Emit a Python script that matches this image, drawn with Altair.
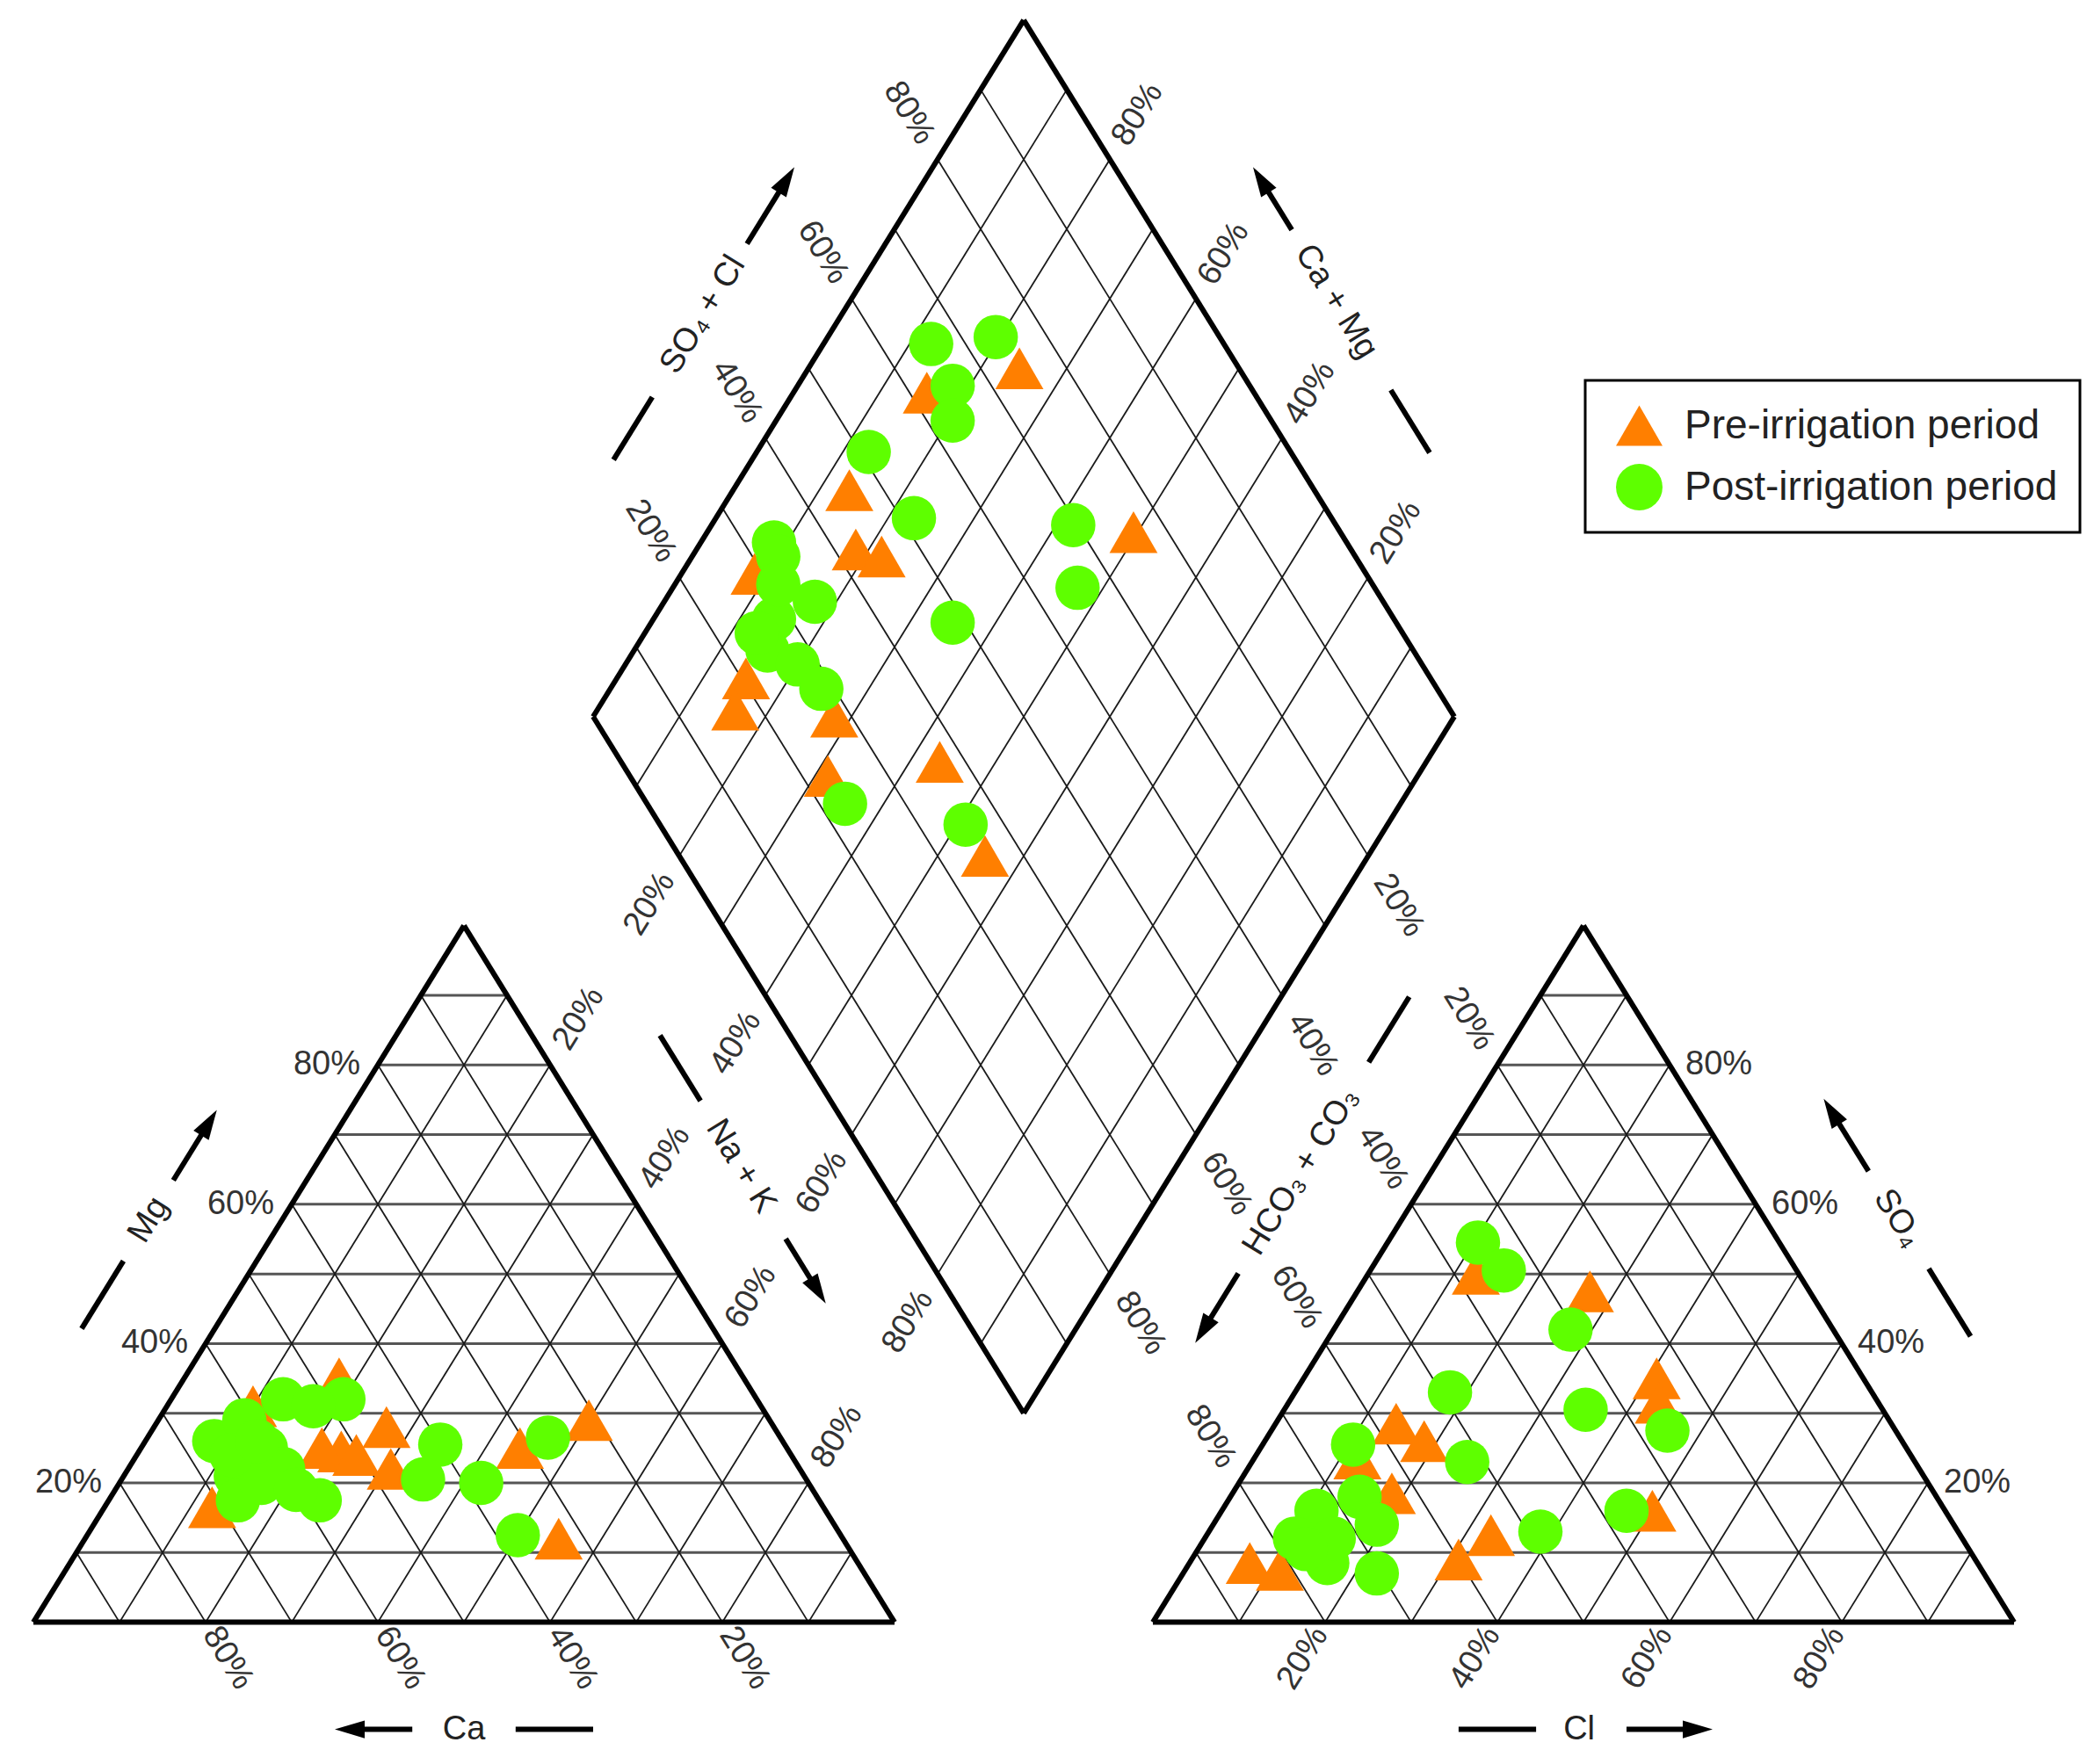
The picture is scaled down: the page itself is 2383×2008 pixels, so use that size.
import math
import altair as alt
import pandas as pd

# ---------------- data (percent) ----------------
PRE = "Pre-irrigation period"
POST = "Post-irrigation period"

# cation triangle: Ca %, Mg %  (Na+K = 100 - Ca - Mg)
CAT_PRE_CA = [47, 59, 45, 52, 54, 50.5, 47.5, 31, 21, 33, 71]
CAT_PRE_MG = [35, 31, 28, 24.5, 25, 24, 22, 25, 29, 12, 16.5]
CAT_POST_CA = [55, 48, 52, 66, 61, 66, 60.5, 67.5, 60, 58, 40, 44.5, 38, 27, 37.5, 63.5, 65, 60, 61]
CAT_POST_MG = [32, 32, 31, 26, 29, 21, 25, 17.5, 22, 17.5, 25.5, 20.5, 20, 26.5, 12.5, 20, 24, 19, 26]

# anion triangle: Cl %, SO4 %  (HCO3+CO3 = 100 - Cl - SO4)
AN_PRE_CL = [27, 12.5, 41, 43, 14, 18.5, 18.5, 33, 31, 7, 11, 50, 12]
AN_PRE_SO4 = [47.5, 50, 35, 31.5, 28.5, 26, 18.5, 12.5, 9, 8.5, 7.5, 16, 23.5]
AN_POST_CL = [10.5, 15.5, 27.5, 18, 35, 46, 10.5, 25, 38.5, 47, 15, 11, 19, 10.5, 16, 22.5, 15, 12.5]
AN_POST_SO4 = [54.5, 50.5, 42, 33, 30.5, 27.5, 25.5, 23, 13, 16, 18, 16, 14, 12, 8.5, 7, 12, 10.5]

# diamond: Na+K %, SO4+Cl %
DIA_PRE_NAK = [24.5, 13.5, 18.5, 22, 49.5, 8.5, 15, 16, 28, 43.5, 31.5, 55.5, 15.5]
DIA_PRE_SO4CL = [74.5, 46, 42.5, 45, 76, 29, 20.5, 17, 28, 37, 23, 35.5, 62]
DIA_POST_NAK = [12.5, 19.5, 18, 20.5, 13, 23, 42, 47, 35, 8.5, 10, 17.5, 14, 15.5, 20, 24.5, 35.5, 51, 12, 13]
DIA_POST_SO4CL = [66, 74, 65.5, 63, 51, 51.5, 69.5, 65.5, 48.5, 33.5, 33, 34, 28, 25, 27.5, 28.5, 23, 35.5, 31, 25]

TICKS = [20, 40, 60, 80]

ORANGE = "#FF7F00"
GREEN = "#5EFF00"
FONT = "Liberation Sans"

# ---------------- geometry ----------------
H = math.sqrt(3) / 2
GAP = 0.3
XPX, YPX = 980.0, 915.6          # pixels per unit
X0, Y0 = 38.0, 1846.6            # page px of unit origin
W, HT = 2367, 1992
XMIN = (8 - X0) / XPX
XMAX = XMIN + W / XPX
YMAX = (Y0 - 8) / YPX
YMIN = YMAX - HT / YPX


def u2p(x, y):
    return (X0 + x * XPX, Y0 - y * YPX)


def p2u(px, py):
    return ((px - X0) / XPX, (Y0 - py) / YPX)


def cat_xy(ca, mg):
    nak = 1 - ca - mg
    return (nak + mg / 2, mg * H)


def an_xy(cl, so4):
    return (1 + GAP + cl + so4 / 2, so4 * H)


def dia_xy(n, a):
    return ((n + 1 + GAP + a) / 2, H * (1 + GAP + a - n))


seg_rows = []


def add_seg(p, q, kind):
    seg_rows.append(dict(x=p[0], y=p[1], x2=q[0], y2=q[1], kind=kind))


for i in range(1, 10):
    f = i / 10
    # cation triangle
    add_seg(cat_xy(1 - f, f), cat_xy(0, f), "h")
    add_seg(cat_xy(f, 0), cat_xy(f, 1 - f), "d")
    add_seg(cat_xy(1 - f, 0), cat_xy(0, 1 - f), "d")
    # anion triangle
    add_seg(an_xy(0, f), an_xy(1 - f, f), "h")
    add_seg(an_xy(f, 0), an_xy(f, 1 - f), "d")
    add_seg(an_xy(1 - f, 0), an_xy(0, 1 - f), "d")
    # diamond
    add_seg(dia_xy(f, 0), dia_xy(f, 1), "d")
    add_seg(dia_xy(0, f), dia_xy(1, f), "d")

# outlines
for tri in ([cat_xy(1, 0), cat_xy(0, 0), cat_xy(0, 1)],
            [an_xy(0, 0), an_xy(1, 0), an_xy(0, 1)],
            [dia_xy(0, 0), dia_xy(1, 0), dia_xy(1, 1), dia_xy(0, 1)]):
    for k in range(len(tri)):
        add_seg(tri[k], tri[(k + 1) % len(tri)], "o")


def unit_dir(p_from, p_to):
    (x1, y1), (x2, y2) = u2p(*p_from), u2p(*p_to)
    dx, dy = x2 - x1, y2 - y1
    L = math.hypot(dx, dy)
    return dx / L, dy / L


def text_angle(dx, dy):
    ang = math.degrees(math.atan2(dy, dx))
    if ang > 90:
        ang -= 180
    if ang <= -90:
        ang += 180
    return ang % 360


def ext_label(anchor, other, dist, text):
    dx, dy = unit_dir(other, anchor)
    px, py = u2p(*anchor)
    lx, ly = p2u(px + dx * dist, py + dy * dist)
    return dict(x=lx, y=ly, text=text, angle=text_angle(dx, dy))


rot_labels, left_labels, right_labels = [], [], []
for t in TICKS:
    f = t / 100
    s = f"{t}%"
    # cation triangle
    px, py = u2p(*cat_xy(1 - f, f))
    lx, ly = p2u(px - 20, py)
    right_labels.append(dict(x=lx, y=ly, text=s))
    rot_labels.append(ext_label(cat_xy(f, 0), cat_xy(f, 1 - f), 48, s))
    rot_labels.append(ext_label(cat_xy(0, 1 - f), cat_xy(1 - f, 0), 62, s))
    # anion triangle
    px, py = u2p(*an_xy(1 - f, f))
    lx, ly = p2u(px + 18, py)
    left_labels.append(dict(x=lx, y=ly, text=s))
    rot_labels.append(ext_label(an_xy(f, 0), an_xy(f, 1 - f), 48, s))
    rot_labels.append(ext_label(an_xy(0, 1 - f), an_xy(1 - f, 0), 62, s))
    # diamond
    rot_labels.append(ext_label(dia_xy(0, f), dia_xy(1, f), 62, s))
    rot_labels.append(ext_label(dia_xy(1 - f, 1), dia_xy(1 - f, 0), 60, s))
    rot_labels.append(ext_label(dia_xy(f, 0), dia_xy(f, 1), 64, s))
    rot_labels.append(ext_label(dia_xy(1, 1 - f), dia_xy(0, 1 - f), 66, s))

# axis titles with dash and arrow
HEAD = 34.0
title_rows, head_rows = [], []


def add_title(A, B, C, d, dash, tt, arrow, text):
    pa, pb, pc = u2p(*A), u2p(*B), u2p(*C)
    vx, vy = pb[0] - pa[0], pb[1] - pa[1]
    L = math.hypot(vx, vy)
    ux, uy = vx / L, vy / L
    nx, ny = uy, -ux
    mx, my = pa[0] + vx * 0.5, pa[1] + vy * 0.5
    if nx * (mx - pc[0]) + ny * (my - pc[1]) < 0:
        nx, ny = -nx, -ny

    def pt(t, back=0.0):
        return p2u(pa[0] + vx * t + nx * d - ux * back,
                   pa[1] + vy * t + ny * d - uy * back)

    tx, ty = pt(tt)
    title_rows.append(dict(x=tx, y=ty, text=text, angle=text_angle(ux, uy)))
    add_seg(pt(dash[0]), pt(dash[1]), "a")
    add_seg(pt(arrow[0]), pt(arrow[1], HEAD * 0.8), "a")
    hx, hy = pt(arrow[1], HEAD / 2)
    head_rows.append(dict(x=hx, y=hy, angle=math.degrees(math.atan2(ux, -uy)) % 360))


CL_C = (0.5, H / 3)
CR_C = (1 + GAP + 0.5, H / 3)
CD_C = dia_xy(0.5, 0.5)

add_title((0, 0), (0.5, H), CL_C, 129, (0.336, 0.433), 0.492, (0.549, 0.65), "Mg")
add_title((1, 0), (0, 0), CL_C, 122, (0.35, 0.44), 0.5, (0.56, 0.65), "Ca")
add_title(dia_xy(0, 0), dia_xy(1, 0), CD_C, 126, (0.374, 0.468), 0.562, (0.666, 0.759), "Na + K")
add_title(dia_xy(0, 0), dia_xy(0, 1), CD_C, 134, (0.28, 0.37), 0.488, (0.59, 0.70), "SO\u2084 + Cl")
add_title(dia_xy(1, 1), dia_xy(0, 1), CD_C, 134, (0.29, 0.38), 0.507, (0.61, 0.70), "Ca + Mg")
add_title(dia_xy(1, 1), dia_xy(1, 0), CD_C, 124, (0.32, 0.414), 0.571, (0.717, 0.817), "HCO\u2083 + CO\u2083")
add_title(an_xy(0, 0), an_xy(1, 0), CR_C, 122, (0.355, 0.445), 0.495, (0.55, 0.65), "Cl")
add_title(an_xy(1, 0), an_xy(0, 1), CR_C, 129, (0.325, 0.422), 0.494, (0.562, 0.666), "SO\u2084")

# sample points
pts = []
for ca, mg in zip(CAT_PRE_CA, CAT_PRE_MG):
    x, y = cat_xy(ca / 100, mg / 100)
    pts.append(dict(x=x, y=y, period=PRE))
for cl, so4 in zip(AN_PRE_CL, AN_PRE_SO4):
    x, y = an_xy(cl / 100, so4 / 100)
    pts.append(dict(x=x, y=y, period=PRE))
for n, a in zip(DIA_PRE_NAK, DIA_PRE_SO4CL):
    x, y = dia_xy(n / 100, a / 100)
    pts.append(dict(x=x, y=y, period=PRE))
for ca, mg in zip(CAT_POST_CA, CAT_POST_MG):
    x, y = cat_xy(ca / 100, mg / 100)
    pts.append(dict(x=x, y=y, period=POST))
for cl, so4 in zip(AN_POST_CL, AN_POST_SO4):
    x, y = an_xy(cl / 100, so4 / 100)
    pts.append(dict(x=x, y=y, period=POST))
for n, a in zip(DIA_POST_NAK, DIA_POST_SO4CL):
    x, y = dia_xy(n / 100, a / 100)
    pts.append(dict(x=x, y=y, period=POST))

seg_df = pd.DataFrame(seg_rows)
pts_df = pd.DataFrame(pts)

# ---------------- chart ----------------
xs = alt.Scale(domain=[XMIN, XMAX], nice=False, zero=False)
ys = alt.Scale(domain=[YMIN, YMAX], nice=False, zero=False)


def rules(kind, color, width):
    return alt.Chart(seg_df[seg_df.kind == kind]).mark_rule(
        color=color, strokeWidth=width, strokeCap="butt"
    ).encode(
        x=alt.X("x:Q", scale=xs, axis=None),
        y=alt.Y("y:Q", scale=ys, axis=None),
        x2="x2:Q",
        y2="y2:Q",
    )


def texts(df, align, size, color, rotate=True):
    enc = dict(
        x=alt.X("x:Q", scale=xs, axis=None),
        y=alt.Y("y:Q", scale=ys, axis=None),
        text="text:N",
    )
    if rotate:
        enc["angle"] = alt.Angle("angle:Q", scale=None)
    return alt.Chart(pd.DataFrame(df)).mark_text(
        align=align, baseline="middle", font=FONT, fontSize=size, color=color
    ).encode(**enc)


legend = alt.Legend(
    title=None, orient="none", legendX=1796, legendY=425,
    fillColor="white", strokeColor="black", padding=25, rowPadding=20,
    labelFont=FONT, labelFontSize=46, labelColor="#222", labelOffset=25,
    symbolSize=2800, symbolOffset=10, symbolStrokeWidth=0, labelLimit=700,
)
color_enc = alt.Color("period:N", scale=alt.Scale(domain=[PRE, POST], range=[ORANGE, GREEN]), legend=legend)
shape_enc = alt.Shape("period:N", scale=alt.Scale(domain=[PRE, POST], range=["triangle-up", "circle"]), legend=legend)


def points(period, size):
    return alt.Chart(pts_df[pts_df.period == period]).mark_point(
        filled=True, opacity=1, size=size, strokeWidth=0
    ).encode(
        x=alt.X("x:Q", scale=xs, axis=None),
        y=alt.Y("y:Q", scale=ys, axis=None),
        color=color_enc,
        shape=shape_enc,
    )


heads = alt.Chart(pd.DataFrame(head_rows)).mark_point(
    shape="M0,-1L0.6,1L-0.6,1Z", filled=True, color="black", opacity=1,
    size=HEAD * HEAD, strokeWidth=0
).encode(
    x=alt.X("x:Q", scale=xs, axis=None),
    y=alt.Y("y:Q", scale=ys, axis=None),
    angle=alt.Angle("angle:Q", scale=None),
)

chart = alt.layer(
    rules("h", "#555555", 3),
    rules("d", "#1a1a1a", 1.8),
    rules("o", "black", 6),
    rules("a", "black", 6),
    heads,
    texts(rot_labels, "center", 38, "#333"),
    texts(right_labels, "right", 38, "#333", rotate=False),
    texts(left_labels, "left", 38, "#333", rotate=False),
    texts(title_rows, "center", 38, "#222"),
    points(PRE, 3000),
    points(POST, 2550),
).properties(
    width=W, height=HT,
    autosize=alt.AutoSizeParams(type="none"),
    padding=0,
    background="white",
).configure_view(stroke=None).configure_legend(strokeWidth=3)

chart.save("out.html", embed_options={"renderer": "svg", "actions": False})
